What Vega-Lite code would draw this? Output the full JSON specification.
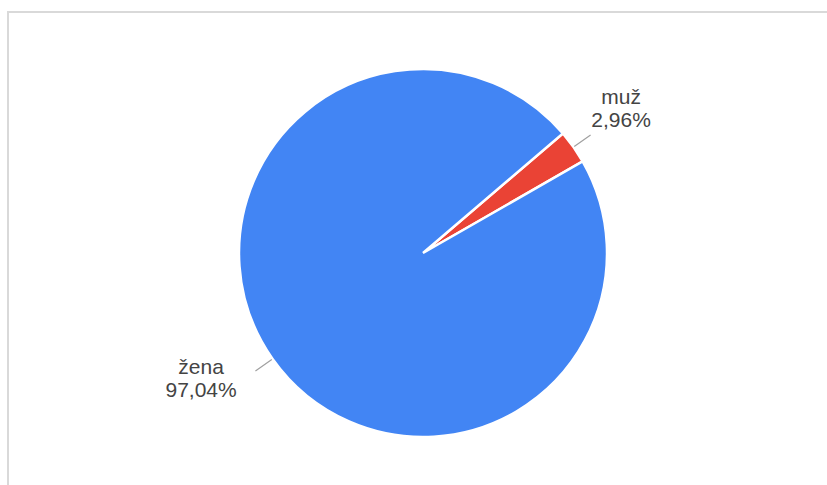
{
  "$schema": "https://vega.github.io/schema/vega-lite/v6.json",
  "autosize": "none",
  "padding": {"left": 8, "top": 12, "right": 0, "bottom": 0},
  "width": 830,
  "height": 482,
  "background": "white",
  "config": {"view": {"stroke": null}},
  "data": {
    "values": [
      {"pohlavi": "muž", "podil": 0.0296},
      {"pohlavi": "žena", "podil": 0.9704}
    ]
  },
  "transform": [
    {"stack": "podil", "groupby": [], "sort": [{"field": "pohlavi", "order": "ascending"}], "as": ["s0", "s1"]},
    {"calculate": "(datum.s0 + datum.s1) / 2", "as": "stred"},
    {"calculate": "datum.pohlavi + '\\n' + replace(format(datum.podil, '.2%'), '.', ',')", "as": "label"}
  ],
  "resolve": {"scale": {"theta": "independent"}},
  "layer": [
    {
      "mark": {"type": "rect", "fillOpacity": 0, "stroke": "#d9d9d9", "strokeWidth": 2},
      "encoding": {}
    },
    {
      "mark": {"type": "arc", "outerRadius": 184, "stroke": "white", "strokeWidth": 2.5},
      "encoding": {
        "theta": {"field": "s0", "type": "quantitative", "scale": {"domain": [0, 1], "range": [0.864, 7.147]}},
        "theta2": {"field": "s1"},
        "color": {"field": "pohlavi", "type": "nominal", "scale": {"domain": ["muž", "žena"], "range": ["#ea4335", "#4285f4"]}, "legend": null}
      }
    },
    {
      "mark": {"type": "arc", "outerRadius": 205, "innerRadius": 185, "stroke": "#a0a0a0", "strokeWidth": 1.2, "fill": "#a0a0a0"},
      "encoding": {
        "theta": {"field": "stred", "type": "quantitative", "scale": {"domain": [0, 1], "range": [0.864, 7.147]}},
        "theta2": {"field": "stred"}
      }
    },
    {
      "mark": {"type": "text", "radius": 250, "dx": -4, "dy": -7.5, "fontSize": 21, "font": "Liberation Sans", "fill": "#444444", "lineBreak": "\n", "lineHeight": 23, "align": "center", "baseline": "middle"},
      "encoding": {
        "theta": {"field": "stred", "type": "quantitative", "scale": {"domain": [0, 1], "range": [0.845, 7.362]}},
        "text": {"field": "label", "type": "nominal"}
      }
    }
  ]
}
